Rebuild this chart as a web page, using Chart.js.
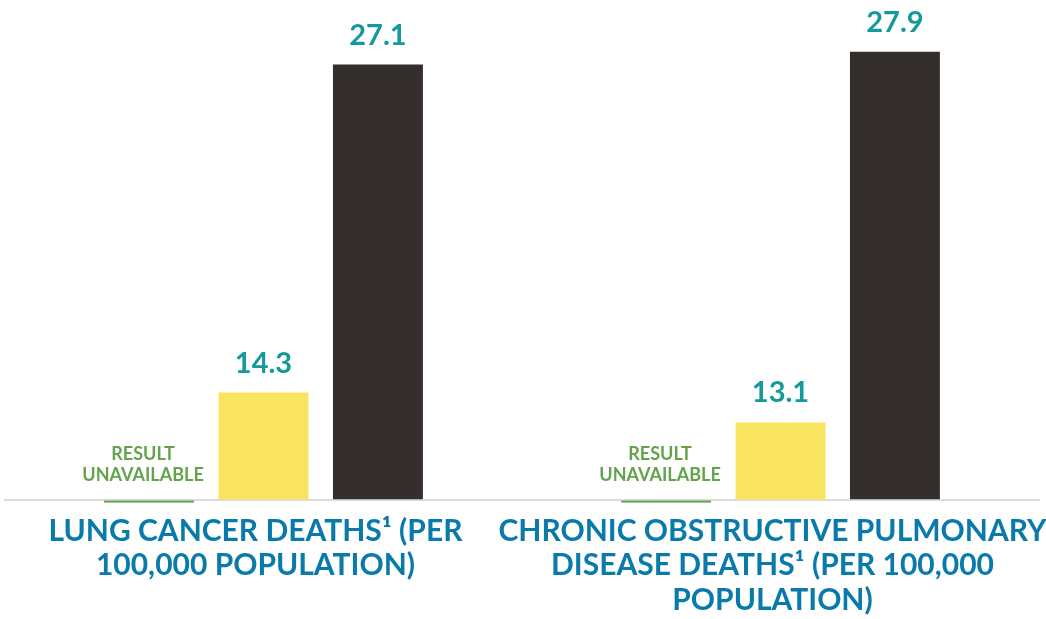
<!DOCTYPE html>
<html>
<head>
<meta charset="utf-8">
<script src="https://cdn.jsdelivr.net/npm/chart.js@4.4.1/dist/chart.umd.min.js"></script>
<style>
  html, body { margin: 0; padding: 0; background: #fff; }
  #wrap { width: 1046px; height: 619px; }
</style>
</head>
<body>
<div id="wrap"><canvas id="myChart"></canvas></div>
<script>
// categories (multi-line tick labels)
const categories = [
  ['LUNG CANCER DEATHS\u00B9 (PER', '100,000 POPULATION)'],
  ['CHRONIC OBSTRUCTIVE PULMONARY', 'DISEASE DEATHS\u00B9 (PER 100,000', 'POPULATION)']
];
// series values
const unavailableValues = [null, null];
const yellowValues = [14.3, 13.1];
const darkValues = [27.1, 27.9];
const unavailableText = ['RESULT', 'UNAVAILABLE'];

const TEAL = '#15999a';
const GREEN = '#62a34c';

// draws value labels above bars + the "result unavailable" marker
const labelPlugin = {
  id: 'labelPlugin',
  afterDatasetsDraw(chart) {
    const ctx = chart.ctx;
    ctx.save();
    chart.data.datasets.forEach((ds, i) => {
      const meta = chart.getDatasetMeta(i);
      meta.data.forEach((bar, j) => {
        const v = ds.data[j];
        if (v == null) {
          const base = chart.scales.y.getPixelForValue(0);
          const w = bar.width;
          ctx.fillStyle = GREEN;
          ctx.fillRect(bar.x - w / 2, base + 1, w, 2);
          ctx.font = 'bold 18px Lato';
          ctx.textAlign = 'center';
          ctx.textBaseline = 'alphabetic';
          ctx.fillText(unavailableText[0], bar.x - 6, base - 40);
          ctx.fillText(unavailableText[1], bar.x - 6, base - 19);
        } else {
          ctx.fillStyle = TEAL;
          ctx.font = 'bold 29px Lato';
          ctx.textAlign = 'center';
          ctx.textBaseline = 'alphabetic';
          ctx.fillText(v.toFixed(1), bar.x, bar.y - 20);
        }
      });
    });
    ctx.restore();
  }
};

const ctx = document.getElementById('myChart');
new Chart(ctx, {
  type: 'bar',
  data: {
    labels: categories,
    datasets: [
      { label: 'Unavailable', data: unavailableValues, backgroundColor: GREEN, yAxisID: 'y' },
      { label: 'Yellow', data: yellowValues, backgroundColor: '#f9e460', yAxisID: 'y1' },
      { label: 'Dark', data: darkValues, backgroundColor: '#342f2c', yAxisID: 'y' }
    ]
  },
  options: {
    responsive: true,
    maintainAspectRatio: false,
    animation: false,
    categoryPercentage: 0.664,
    barPercentage: 0.786,
    layout: { padding: { left: 5, right: 7, top: 2, bottom: 0 } },
    plugins: {
      legend: { display: false },
      tooltip: { enabled: false }
    },
    scales: {
      x: {
        grid: { display: false, drawTicks: false },
        border: { display: true, color: '#dcdcdc', width: 2 },
        ticks: {
          color: '#0a7aab',
          padding: 14,
          labelOffset: -8,
          maxRotation: 0,
          autoSkip: false,
          font: { family: 'Lato', weight: 'bold', size: 30, lineHeight: 1.16 }
        },
        afterFit(scale) {
          // labels may overhang the plot edge, like the original
          scale.paddingLeft = 0;
          scale.paddingRight = 0;
          scale.height -= 13;
        }
      },
      y: { display: false, min: 0, max: 31 },
      y1: { display: false, min: 10, max: 30 }
    }
  },
  plugins: [labelPlugin]
});
</script>
</body>
</html>
